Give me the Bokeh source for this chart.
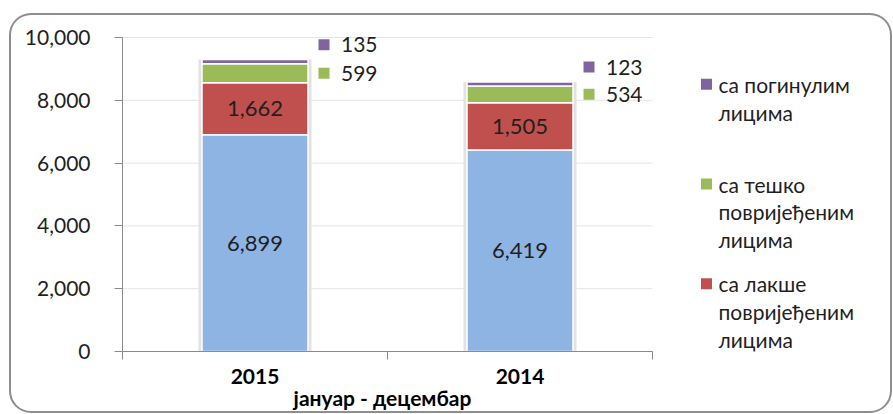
from bokeh.plotting import figure
from bokeh.models import Range1d, FixedTicker, NumeralTickFormatter, ColumnDataSource
from bokeh.core.properties import value
from bokeh.embed import file_html
from bokeh.resources import INLINE

# ---------------- data ----------------
years = ["2015", "2014"]
material = [6899, 6419]      # blue
light_inj = [1662, 1505]     # red    - са лакше повријеђеним лицима
serious_inj = [599, 534]     # green  - са тешко повријеђеним лицима
killed = [135, 123]          # purple - са погинулим лицима
y_ticks = [0, 2000, 4000, 6000, 8000, 10000]
y_max = 10000
legend_labels = ["са погинулим\nлицима", "са тешко\nповријеђеним\nлицима", "са лакше\nповријеђеним\nлицима"]
axis_title = "јануар - децембар"

# ---------------- style / layout ----------------
C_BLUE, C_RED, C_GREEN, C_PURPLE = "#8EB4E3", "#C0504D", "#9BBB59", "#8064A2"
legend_colors = [C_PURPLE, C_GREEN, C_RED]
FONT = "Lato"
TXT = "#1f1f1f"
GRAY = "#8a8a8a"
FIG_W, FIG_H = 883, 400
BORDER_L, BORDER_B, BORDER_T = 113, 61, 14
CAT_PX = 265.0                   # pixels per category
Y_PX = 315.0 / y_max             # pixels per unit
PAD_TOP_PX = 10
n = len(years)
x_end = (FIG_W - BORDER_L) / CAT_PX
y_end = y_max + PAD_TOP_PX / Y_PX

def dx(px):   # horizontal pixel distance -> x units
    return px / CAT_PX

def dy(px):   # vertical pixel distance -> y units
    return px / Y_PX

def fmt(v):
    return f"{v:,}"

xpos = [i + 0.5 for i in range(n)]
totals = [a + b + c + d for a, b, c, d in zip(material, light_inj, serious_inj, killed)]
src = ColumnDataSource(dict(
    x=xpos, blue=material, red=light_inj, green=serious_inj, purple=killed, total=totals,
    mid_blue=[m / 2 for m in material],
    mid_red=[m + r / 2 for m, r in zip(material, light_inj)],
    mid_green=[m + r + g / 2 for m, r, g in zip(material, light_inj, serious_inj)],
    lbl_blue=[fmt(v) for v in material], lbl_red=[fmt(v) for v in light_inj],
    lbl_green=[fmt(v) for v in serious_inj], lbl_purple=[fmt(v) for v in killed],
))

p = figure(x_range=Range1d(0, x_end), y_range=Range1d(0, y_end),
           width=FIG_W, height=FIG_H, margin=(13, 0, 0, 9),
           output_backend="svg", toolbar_location=None,
           min_border_left=BORDER_L, min_border_right=0, min_border_top=BORDER_T,
           min_border_bottom=BORDER_B,
           background_fill_color=None, border_fill_color=None,
           styles={"background-color": "white", "border-radius": "22px",
                   "box-shadow": "inset 0 0 0 2px #8e8e8e"})
p.outline_line_color = None
p.xgrid.grid_line_color = None
p.ygrid.grid_line_color = None

# gridlines limited to the plot area (0..n)
grid_y = [t for t in y_ticks if t > 0]
p.segment(x0=[0] * len(grid_y), x1=[n] * len(grid_y), y0=grid_y, y1=grid_y,
          line_color="#e4e4e4", line_width=1)

# y axis
ya = p.yaxis[0]
ya.bounds = (0, y_max)
ya.ticker = FixedTicker(ticks=y_ticks)
ya.formatter = NumeralTickFormatter(format="0,0")
ya.axis_line_color = GRAY
ya.major_tick_line_color = GRAY
ya.major_tick_in = 0
ya.major_tick_out = 8
ya.minor_tick_line_color = None
ya.major_label_standoff = 24
ya.major_label_text_font = FONT
ya.major_label_text_font_size = "21px"
ya.major_label_text_color = TXT

# x axis: category labels at centres, boundary ticks as minor ticks,
# axis title as a second label line under the axis
title_x = n / 2 - dx(5)
xa = p.xaxis[0]
xa.bounds = (0, n)
xa.ticker = FixedTicker(ticks=[xpos[0], title_x, xpos[1]], minor_ticks=list(range(n + 1)))
overrides = {x: y for x, y in zip(xpos, years)}
overrides[title_x] = "\n" + axis_title
xa.major_label_overrides = overrides
xa.major_tick_line_color = None
xa.major_tick_out = 0
xa.major_tick_in = 0
xa.minor_tick_line_color = GRAY
xa.minor_tick_out = 8
xa.minor_tick_in = 0
xa.axis_line_color = GRAY
xa.major_label_standoff = 3
xa.major_label_text_font = FONT
xa.major_label_text_font_size = "21px"
xa.major_label_text_font_style = "bold"
xa.major_label_text_color = "#000000"
xa.major_label_text_line_height = 0.9

# shadow + bars
BAR_W = 0.4
p.vbar(x="x", top="total", width=BAR_W + dx(7), source=src, fill_color="#e2e2e2", line_color=None)
p.vbar_stack(["blue", "red", "green", "purple"], x="x", width=BAR_W, source=src,
             fill_color=[C_BLUE, C_RED, C_GREEN, C_PURPLE], line_color="white", line_width=1.5)

# labels inside the bars
for ycol, tcol in [("mid_blue", "lbl_blue"), ("mid_red", "lbl_red")]:
    p.text(x="x", y=ycol, text=tcol, source=src, text_align="center", text_baseline="middle",
           text_font=value(FONT), text_font_size="22px", text_color=TXT)

# labels beside the bars (green at its segment centre, purple above the bar top)
half = BAR_W / 2
for ycol, tcol, col, up in [("mid_green", "lbl_green", C_GREEN, 0), ("total", "lbl_purple", C_PURPLE, 15)]:
    ys = [v + dy(up) for v in src.data[ycol]]
    p.scatter(x=[x + half + dx(16) for x in xpos], y=ys, marker="square", size=11,
              fill_color=col, line_color=None)
    p.text(x=[x + half + dx(33) for x in xpos], y=ys, text=src.data[tcol],
           text_align="left", text_baseline="middle", text_font=value(FONT),
           text_font_size="21px", text_color=TXT)

# legend (right of the plot area)
LEG_X_PX, LEG_Y0_PX, LEG_STEP_PX, LINE_PX = 54, 47, 100, 28
for i, (lab, col) in enumerate(zip(legend_labels, legend_colors)):
    y0 = y_max - dy(LEG_Y0_PX + i * LEG_STEP_PX)
    p.scatter(x=[n + dx(LEG_X_PX)], y=[y0], marker="square", size=11, fill_color=col, line_color=None)
    lines = lab.split("\n")
    p.text(x=[n + dx(LEG_X_PX + 12)] * len(lines), y=[y0 - dy(LINE_PX * k) for k in range(len(lines))],
           text=lines, text_align="left", text_baseline="middle", text_font=value(FONT),
           text_font_size="21px", text_color=TXT)

open("out.html", "w").write(file_html(p, INLINE))
